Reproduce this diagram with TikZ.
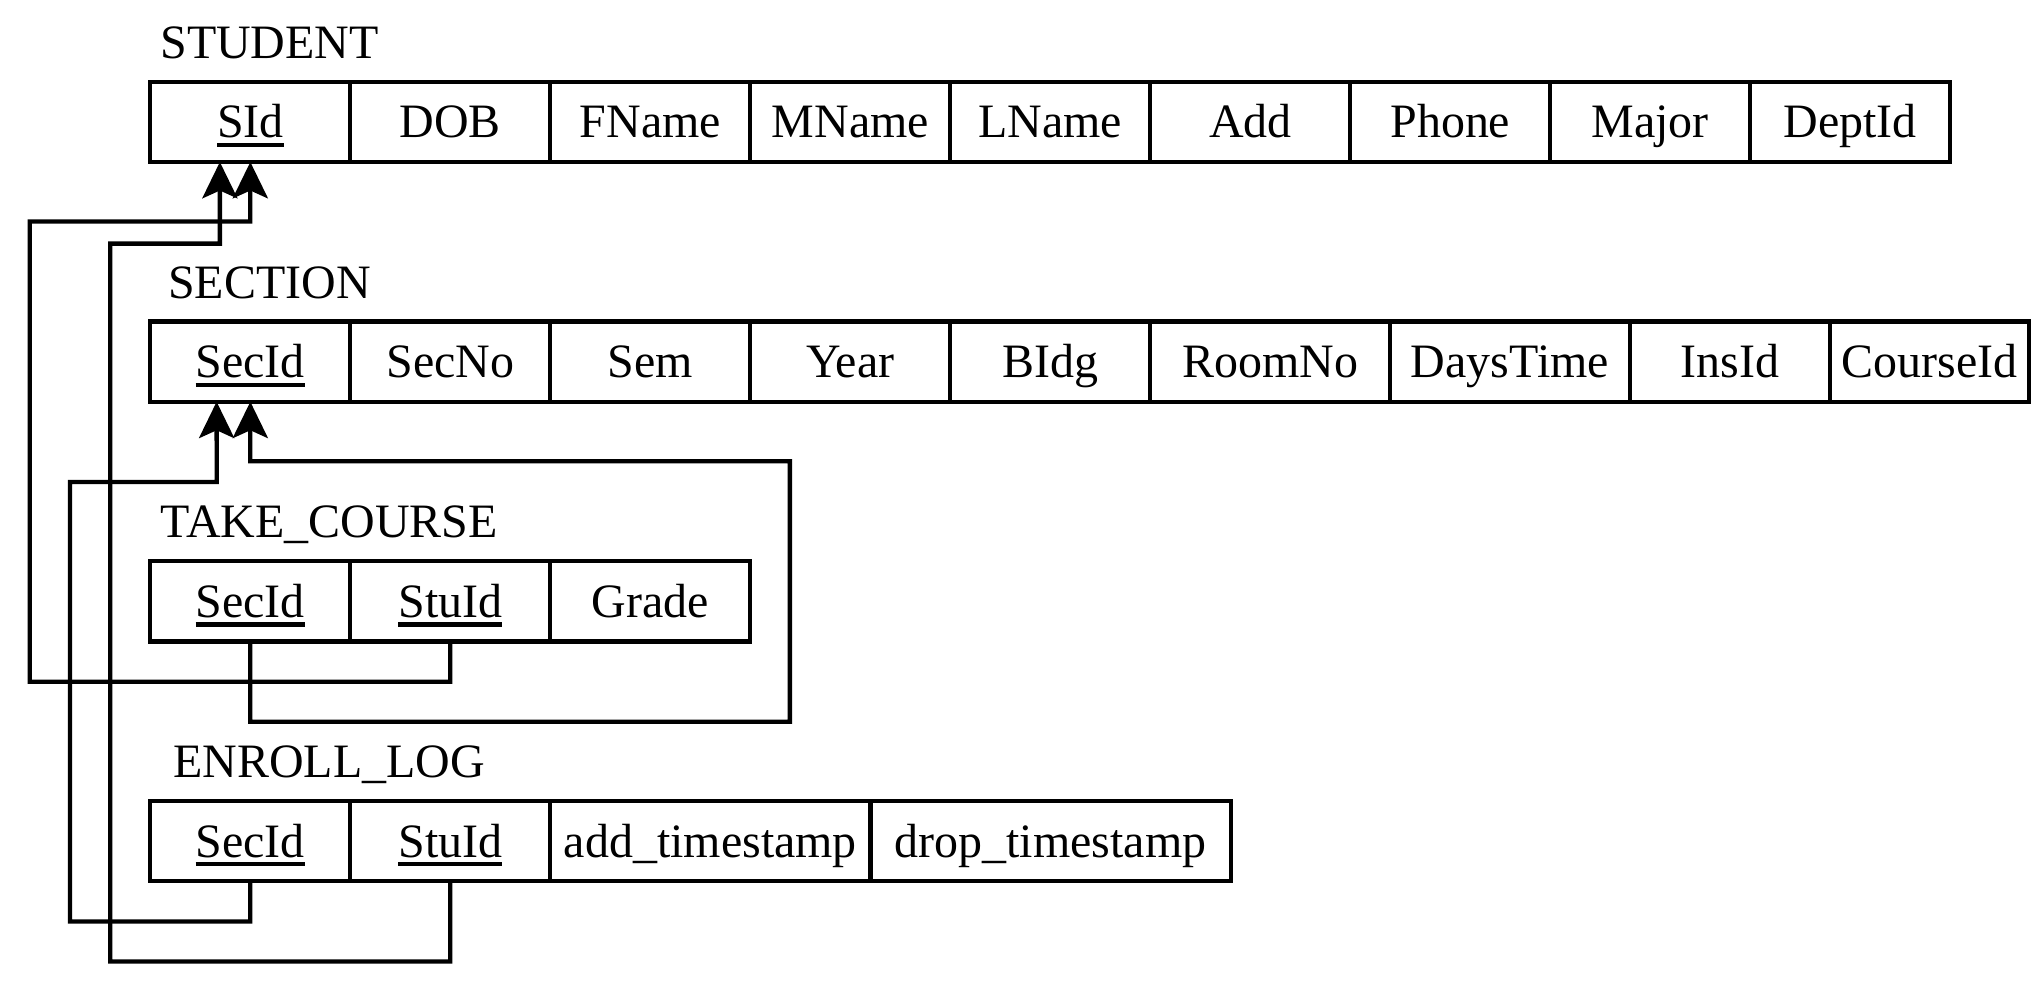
\documentclass[tikz,border=0pt]{standalone}
\usepackage{fontspec}
\setmainfont{Liberation Serif}
\usetikzlibrary{arrows.meta}
\newcommand{\keyattr}[1]{\setbox0=\hbox{#1}\rlap{\vrule height -3.9pt depth 7.1pt width \wd0}\box0}
\tikzset{
  cell/.style={draw, line width=3.3pt, inner sep=0pt, outer sep=0pt, minimum height=62pt,
    anchor=north west, text height=26.5pt, text depth=1.8pt,
    font=\fontsize{37pt}{40pt}\selectfont},
  w/.style={minimum width=154.33pt},
  tlabel/.style={anchor=base, inner sep=0pt, font=\fontsize{37pt}{40pt}\selectfont},
  fk/.style={line width=3.3pt, line join=miter, -{Stealth[length=28pt,width=27pt,inset=6pt]}},
}
\begin{document}
\begin{tikzpicture}[x=1pt,y=-1pt]
\useasboundingbox (0,0) rectangle (1568,768.6);
% STUDENT
\node[tlabel] (lst) at (208,45) {STUDENT};
\node[cell,w] (st1) at (116,63) {\keyattr{SId}};
\node[cell,w] (st2) at (st1.north east) {DOB};
\node[cell,w] (st3) at (st2.north east) {FName};
\node[cell,w] (st4) at (st3.north east) {MName};
\node[cell,w] (st5) at (st4.north east) {LName};
\node[cell,w] (st6) at (st5.north east) {Add};
\node[cell,w] (st7) at (st6.north east) {Phone};
\node[cell,w] (st8) at (st7.north east) {Major};
\node[cell,w] (st9) at (st8.north east) {DeptId};
% SECTION
\node[tlabel] (lse) at (208,230) {SECTION};
\node[cell,w] (se1) at (116,248) {\keyattr{SecId}};
\node[cell,w] (se2) at (se1.north east) {SecNo};
\node[cell,w] (se3) at (se2.north east) {Sem};
\node[cell,w] (se4) at (se3.north east) {Year};
\node[cell,w] (se5) at (se4.north east) {BIdg};
\node[cell,minimum width=185pt] (se6) at (se5.north east) {RoomNo};
\node[cell,minimum width=185pt] (se7) at (se6.north east) {DaysTime};
\node[cell,w] (se8) at (se7.north east) {InsId};
\node[cell,minimum width=153.7pt] (se9) at (se8.north east) {CourseId};
% TAKE_COURSE
\node[tlabel] (ltc) at (254,415) {TAKE\_COURSE};
\node[cell,w] (tc1) at (116,433) {\keyattr{SecId}};
\node[cell,w] (tc2) at (tc1.north east) {\keyattr{StuId}};
\node[cell,w] (tc3) at (tc2.north east) {Grade};
% ENROLL_LOG
\node[tlabel] (lel) at (254,600) {ENROLL\_LOG};
\node[cell,w] (el1) at (116,618) {\keyattr{SecId}};
\node[cell,w] (el2) at (el1.north east) {\keyattr{StuId}};
\node[cell,minimum width=247pt] (el3) at (el2.north east) {add\_timestamp};
\node[cell,minimum width=278pt] (el4) at (el3.north east) {drop\_timestamp};
% foreign keys
\draw[fk] (tc2.south) |- (23,526) |- (193.17,171) -- (st1.south);
\draw[fk] (el2.south) |- (85,742) |- (169.67,188) -- ([xshift=-23.5pt]st1.south);
\draw[fk] (tc1.south) |- (609.5,557) |- (193.17,356) -- (se1.south);
\draw[fk] (el1.south) |- (54,711) |- (167.17,372) -- ([xshift=-26pt]se1.south);
\end{tikzpicture}
\end{document}
